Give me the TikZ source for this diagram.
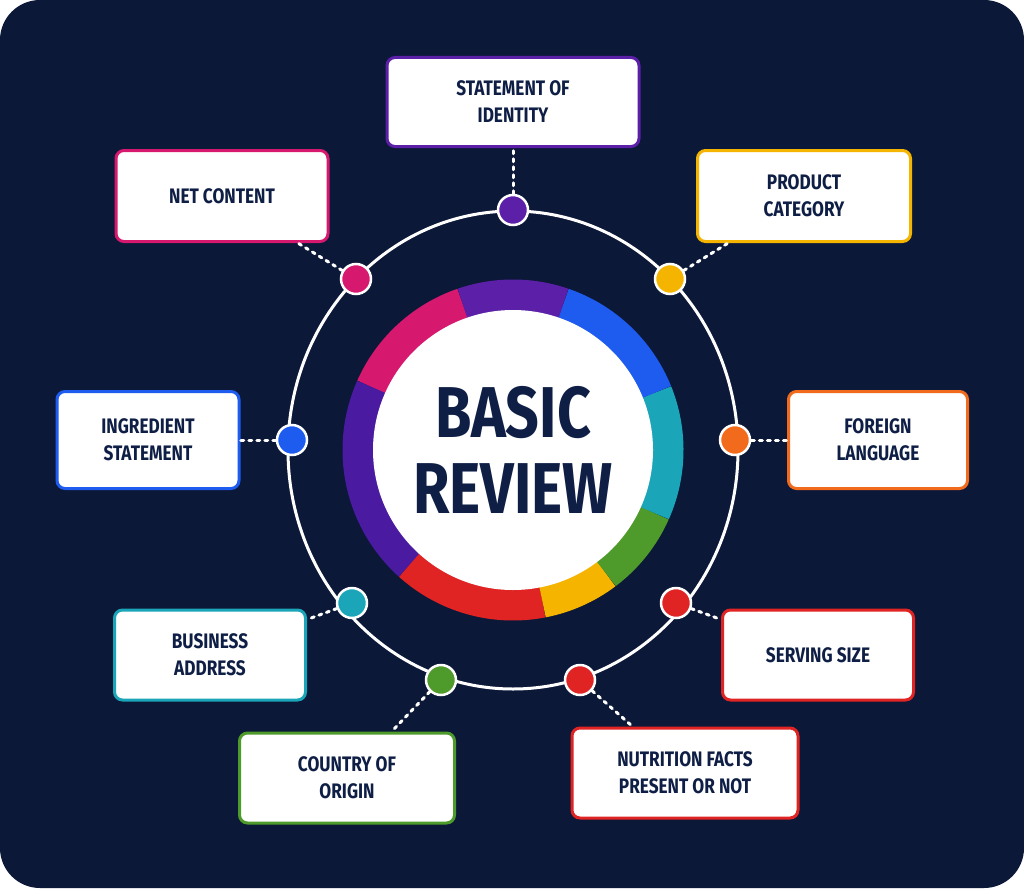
\documentclass[tikz,border=0pt]{standalone}
\usepackage{fontspec}
\newfontfamily\cond[FakeStretch=0.82]{Fira Sans}
\begin{document}
\begin{tikzpicture}[x=1pt,y=-1pt,
  box/.style={draw=#1,line width=3pt,fill=white,rounded corners=8pt,inner sep=0pt,
    font=\cond\bfseries\fontsize{21}{27}\selectfont,text=navytext,align=center},
  dot/.style={circle,fill=#1,draw=white,line width=2.5pt,minimum size=30pt,inner sep=0pt},
  conn/.style={white,line width=3pt,dash pattern=on 3pt off 5pt,line cap=round}]
\definecolor{bg}{HTML}{0C1838}
\definecolor{navytext}{HTML}{0E1E45}
\definecolor{cmag}{HTML}{D6186F}
\definecolor{cpur}{HTML}{5B1FA8}
\definecolor{cblu}{HTML}{1E5BEF}
\definecolor{ctea}{HTML}{1BA5B8}
\definecolor{cgrn}{HTML}{4E9A2A}
\definecolor{cyel}{HTML}{F4B400}
\definecolor{cred}{HTML}{E02424}
\definecolor{cind}{HTML}{4A1AA0}
\definecolor{corg}{HTML}{F26B1D}
\useasboundingbox (0,0) rectangle (1024,888);
\fill[white] (0,0) rectangle (1024,888);
\fill[bg,rounded corners=40pt] (0,0) rectangle (1024,888);
\coordinate (C) at (513,450);
\draw[white,line width=3pt] (C) ellipse [x radius=225,y radius=239];
% ring segments
\foreach \a/\b/\c in {109/156/cmag,156/228/cind,228/281/cred,281/307/cyel,307/336/cgrn,336/382/ctea,22/71/cblu,71/109/cpur}{
  \draw[line width=31pt,\c] (C) ++(-\a:155) arc[start angle=-\a,end angle=-\b,radius=155];
}
\node[circle,fill=white,minimum size=280pt,inner sep=0pt,align=center,
  font=\cond\bfseries\fontsize{72}{76}\selectfont,text=navytext] (center) at (C) {BASIC\\REVIEW};
% boxes
\node[box=cpur,minimum width=252pt,minimum height=89pt] (b1) at (513,102) {STATEMENT OF\\IDENTITY};
\node[box=cmag,minimum width=212pt,minimum height=91pt] (b2) at (222,196) {NET CONTENT};
\node[box=cyel,minimum width=213pt,minimum height=91pt] (b3) at (804,196) {PRODUCT\\CATEGORY};
\node[box=cblu,minimum width=182pt,minimum height=97pt] (b4) at (148,440) {INGREDIENT\\STATEMENT};
\node[box=corg,minimum width=179pt,minimum height=97pt] (b5) at (878,440) {FOREIGN\\LANGUAGE};
\node[box=ctea,minimum width=191pt,minimum height=90pt] (b6) at (210,655) {BUSINESS\\ADDRESS};
\node[box=cred,minimum width=191pt,minimum height=90pt] (b7) at (818,655) {SERVING SIZE};
\node[box=cgrn,minimum width=215pt,minimum height=90pt] (b8) at (347,778) {COUNTRY OF\\ORIGIN};
\node[box=cred,minimum width=226pt,minimum height=90pt] (b9) at (685,773) {NUTRITION FACTS\\PRESENT OR NOT};
% dots
\node[dot=cpur] (d1) at (513,210) {};
\node[dot=cmag] (d2) at (356,279) {};
\node[dot=cyel] (d3) at (670,279) {};
\node[dot=cblu] (d4) at (292,440) {};
\node[dot=corg] (d5) at (735,440) {};
\node[dot=ctea] (d6) at (352,603) {};
\node[dot=cred] (d7) at (676,603) {};
\node[dot=cgrn] (d8) at (441,680) {};
\node[dot=cred] (d9) at (580,680) {};
\foreach \i in {1,...,9}{\draw[conn] (d\i) -- (b\i);}
\end{tikzpicture}
\end{document}
